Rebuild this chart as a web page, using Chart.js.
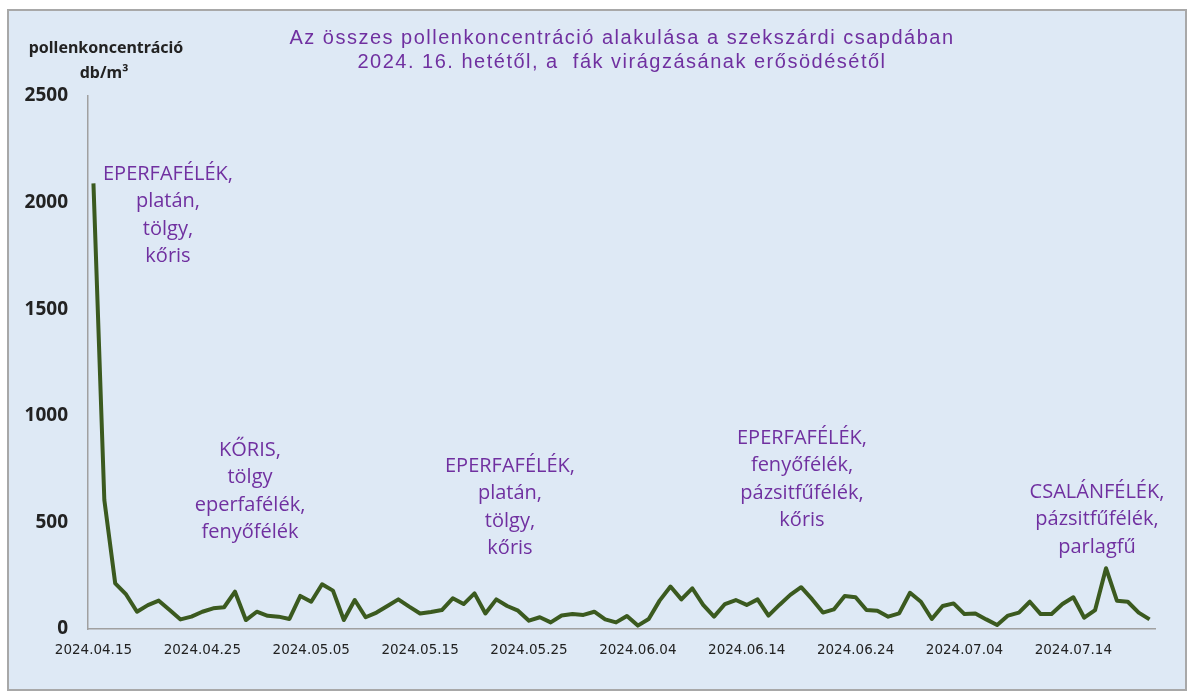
<!DOCTYPE html>
<html lang="hu">
<head>
<meta charset="utf-8">
<title>Pollenkoncentráció – Szekszárd 2024</title>
<script src="https://cdn.jsdelivr.net/npm/chart.js@4"></script>
<style>
  html, body { margin: 0; padding: 0; background: #fff; }
  #wrap { width: 1193px; height: 696px; }
</style>
</head>
<body>
<div id="wrap"><canvas id="chart" width="1193" height="696"></canvas></div>
<script>
// napi összes pollen, db/m3 (2024.04.15 - 2024.07.21)
const startDate = new Date(2024, 3, 15);
const dayCount = 98;

const pollenValues = [
  2090, 605, 214, 162, 81, 112, 133, 89, 45, 58,
  81, 97, 102, 175, 42, 81, 62, 58, 47, 155,
  128, 210, 180, 42, 136, 55, 77, 108, 139, 105,
  73, 80, 89, 144, 117, 167, 73, 139, 108, 86,
  39, 55, 31, 63, 70, 66, 81, 45, 31, 61,
  16, 47, 133, 199, 139, 191, 113, 58, 117, 136,
  113, 139, 63, 113, 160, 196, 140, 77, 92, 155,
  149, 89, 86, 58, 73, 170, 128, 47, 108, 120,
  70, 73, 45, 19, 63, 77, 128, 70, 70, 117,
  149, 53, 89, 285, 133, 128, 77, 45
];

const yTicks = [0, 500, 1000, 1500, 2000, 2500];

const titleLines = [
  'Az összes pollenkoncentráció alakulása a szekszárdi csapdában',
  '2024. 16. hetétől, a  fák virágzásának erősödésétől'
];
const yTitleLines = ['pollenkoncentráció', 'db/m³'];

// virágzó növények feliratai
const noteTexts = [
  ['EPERFAFÉLÉK,', 'platán,', 'tölgy,', 'kőris'],
  ['KŐRIS,', 'tölgy', 'eperfafélék,', 'fenyőfélék'],
  ['EPERFAFÉLÉK,', 'platán,', 'tölgy,', 'kőris'],
  ['EPERFAFÉLÉK,', 'fenyőfélék,', 'pázsitfűfélék,', 'kőris'],
  ['CSALÁNFÉLÉK,', 'pázsitfűfélék,', 'parlagfű']
];
const notePlaces = [
  { x: 168, y: 174 },
  { x: 250, y: 450 },
  { x: 510, y: 466 },
  { x: 802, y: 438 },
  { x: 1097, y: 492 }
];

const pad = n => String(n).padStart(2, '0');
const dayLabels = [];
for (let i = 0; i < dayCount; i++) {
  const d = new Date(startDate);
  d.setDate(d.getDate() + i);
  dayLabels.push(d.getFullYear() + '.' + pad(d.getMonth() + 1) + '.' + pad(d.getDate()));
}

const PURPLE = '#7030a0';

const decorPlugin = {
  id: 'decor',
  beforeDraw(chart) {
    const ctx = chart.ctx;
    ctx.save();
    ctx.fillStyle = '#ffffff';
    ctx.fillRect(0, 0, chart.width, chart.height);
    ctx.fillStyle = '#dee9f5';
    ctx.fillRect(8, 10, 1178, 680);
    ctx.strokeStyle = '#a8a8a8';
    ctx.lineWidth = 2;
    ctx.strokeRect(8, 10, 1178, 680);
    ctx.restore();
  },
  afterDraw(chart) {
    const ctx = chart.ctx;
    ctx.save();
    ctx.textAlign = 'center';
    ctx.textBaseline = 'middle';

    // cím
    ctx.fillStyle = PURPLE;
    ctx.font = '20px "Liberation Sans", Arial, sans-serif';
    ctx.letterSpacing = '1.5px';
    titleLines.forEach((t, i) => ctx.fillText(t, 622, 38 + i * 24));
    ctx.letterSpacing = '0px';

    // tengelycím
    ctx.fillStyle = '#222';
    ctx.font = 'bold 16px "Noto Sans", sans-serif';
    ctx.fillText(yTitleLines[0], 106, 48);
    ctx.fillText(yTitleLines[1], 104, 73);

    // feliratok
    ctx.fillStyle = PURPLE;
    ctx.font = '20px "Open Sans", sans-serif';
    noteTexts.forEach((lines, n) => {
      const p = notePlaces[n];
      lines.forEach((t, i) => ctx.fillText(t, p.x, p.y + i * 27.5));
    });
    ctx.restore();
  }
};

new Chart(document.getElementById('chart'), {
  type: 'line',
  data: {
    labels: dayLabels,
    datasets: [{
      data: pollenValues,
      borderColor: '#3b5a1f',
      borderWidth: 4,
      borderJoinStyle: 'round',
      pointRadius: 0,
      tension: 0,
      fill: false
    }]
  },
  options: {
    responsive: false,
    animation: false,
    layout: { padding: { top: 96, right: 38, bottom: 0, left: 0 } },
    plugins: {
      legend: { display: false },
      tooltip: { enabled: false }
    },
    scales: {
      x: {
        type: 'category',
        offset: true,
        grid: { display: false, drawTicks: false },
        border: { display: true, color: '#a0a0a0', width: 1.5 },
        afterFit: s => { s.height = 67; },
        ticks: {
          autoSkip: false,
          maxRotation: 0,
          padding: 13,
          color: '#222',
          font: { family: '"DejaVu Sans", sans-serif', size: 13.5 },
          callback: (v, i) => (i % 10 === 0 ? dayLabels[i] : null)
        }
      },
      y: {
        min: 0,
        max: 2500,
        afterFit: s => { s.width = 88; },
        afterBuildTicks: s => { s.ticks = yTicks.map(v => ({ value: v })); },
        grid: { display: false, drawTicks: false },
        border: { display: true, color: '#a0a0a0', width: 1.5 },
        ticks: {
          padding: 20,
          color: '#222',
          font: { family: '"Open Sans", sans-serif', size: 19, weight: 'bold' },
          callback: v => String(v)
        }
      }
    }
  },
  plugins: [decorPlugin]
});
</script>
</body>
</html>
